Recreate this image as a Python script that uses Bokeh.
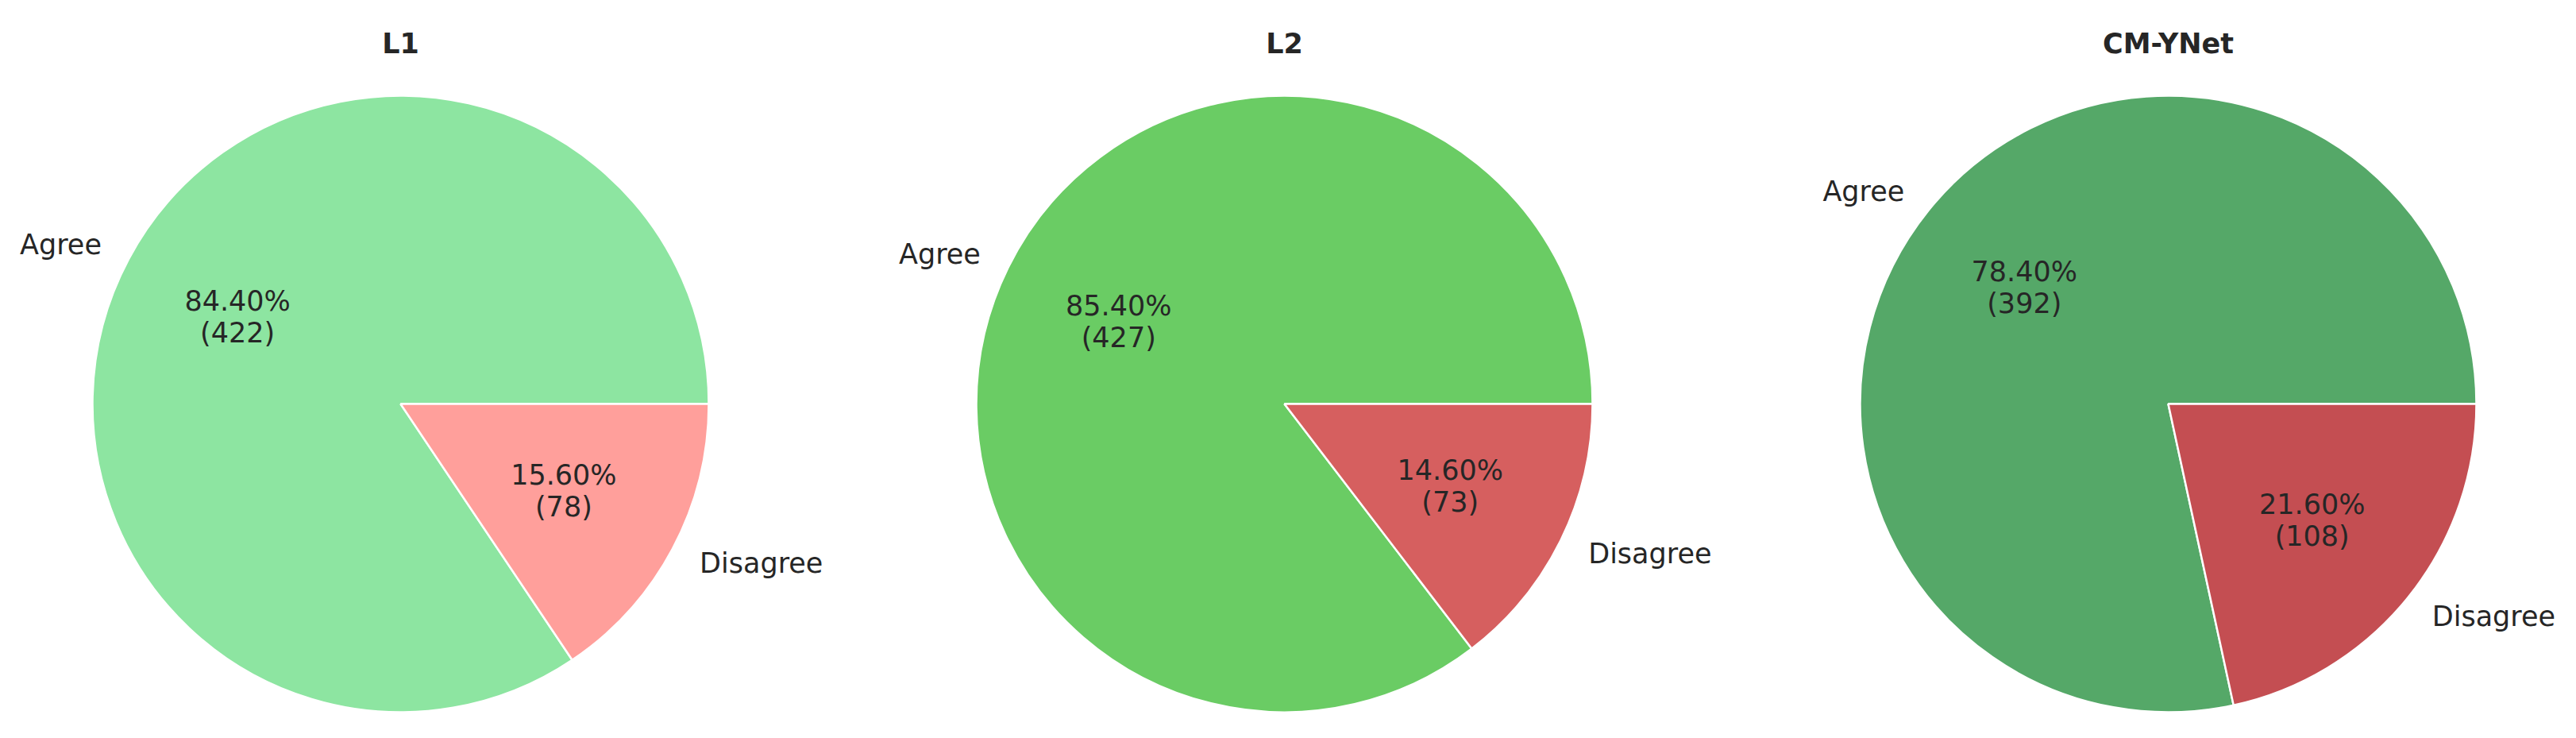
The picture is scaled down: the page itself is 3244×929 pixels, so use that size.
import math
from bokeh.plotting import figure
from bokeh.models import ColumnDataSource, Range1d
from bokeh.core.properties import value
from bokeh.embed import file_html
from bokeh.resources import INLINE

# ---- data ----
titles = ["L1", "L2", "CM-YNet"]
categories = ["Agree", "Disagree"]
agree_counts = [422, 427, 392]
disagree_counts = [78, 73, 108]
agree_colors = ["#8de5a1", "#6acc64", "#55a868"]
disagree_colors = ["#ff9f9b", "#d65f5f", "#c44e52"]

# ---- layout (pixels) ----
W, H = 3228, 913
R = 388
centers_x = [504, 1617, 2730]
center_y = H - 508
FONT = value("DejaVu Sans")
TXT = "#262626"

p = figure(width=W, height=H, output_backend="svg", toolbar_location=None,
           x_range=Range1d(0, W), y_range=Range1d(0, H),
           x_axis_location=None, y_axis_location=None, min_border=0)
p.grid.visible = False
p.outline_line_color = None
p.background_fill_color = "white"
p.border_fill_color = "white"

for i, t in enumerate(titles):
    cx = centers_x[i]
    counts = [agree_counts[i], disagree_counts[i]]
    colors = [agree_colors[i], disagree_colors[i]]
    total = sum(counts)
    starts, ends = [], []
    acc = 0.0
    for c in counts:
        starts.append(2 * math.pi * acc / total)
        acc += c
        ends.append(2 * math.pi * acc / total)
    src = ColumnDataSource(dict(x=[cx] * 2, y=[center_y] * 2, start=starts, end=ends,
                                color=colors, cat=categories, count=counts))
    p.wedge(x="x", y="y", radius=R, start_angle="start", end_angle="end",
            direction="anticlock", fill_color="color", line_color="white",
            line_width=2.5, source=src)

    for k, c in enumerate(counts):
        mid = (starts[k] + ends[k]) / 2
        lx = cx + 1.1 * R * math.cos(mid)
        ly = center_y + 1.1 * R * math.sin(mid)
        p.text(x=[lx], y=[ly], text=[categories[k]], text_font=FONT,
               text_font_size="35px", text_color=TXT,
               text_align="left" if math.cos(mid) > 0 else "right",
               text_baseline="middle")
        px_ = cx + 0.6 * R * math.cos(mid)
        py_ = center_y + 0.6 * R * math.sin(mid)
        pct = 100.0 * c / total
        p.text(x=[px_], y=[py_], text=[f"{pct:.2f}%\n({c})"], text_font=FONT,
               text_font_size="35px", text_color=TXT, text_align="center",
               text_baseline="middle", text_line_height=1.0)

    p.text(x=[cx], y=[H - 54], text=[t], text_font=FONT, text_font_size="35px",
           text_font_style="bold", text_color=TXT, text_align="center",
           text_baseline="alphabetic")

open("out.html", "w").write(file_html(p, INLINE))
